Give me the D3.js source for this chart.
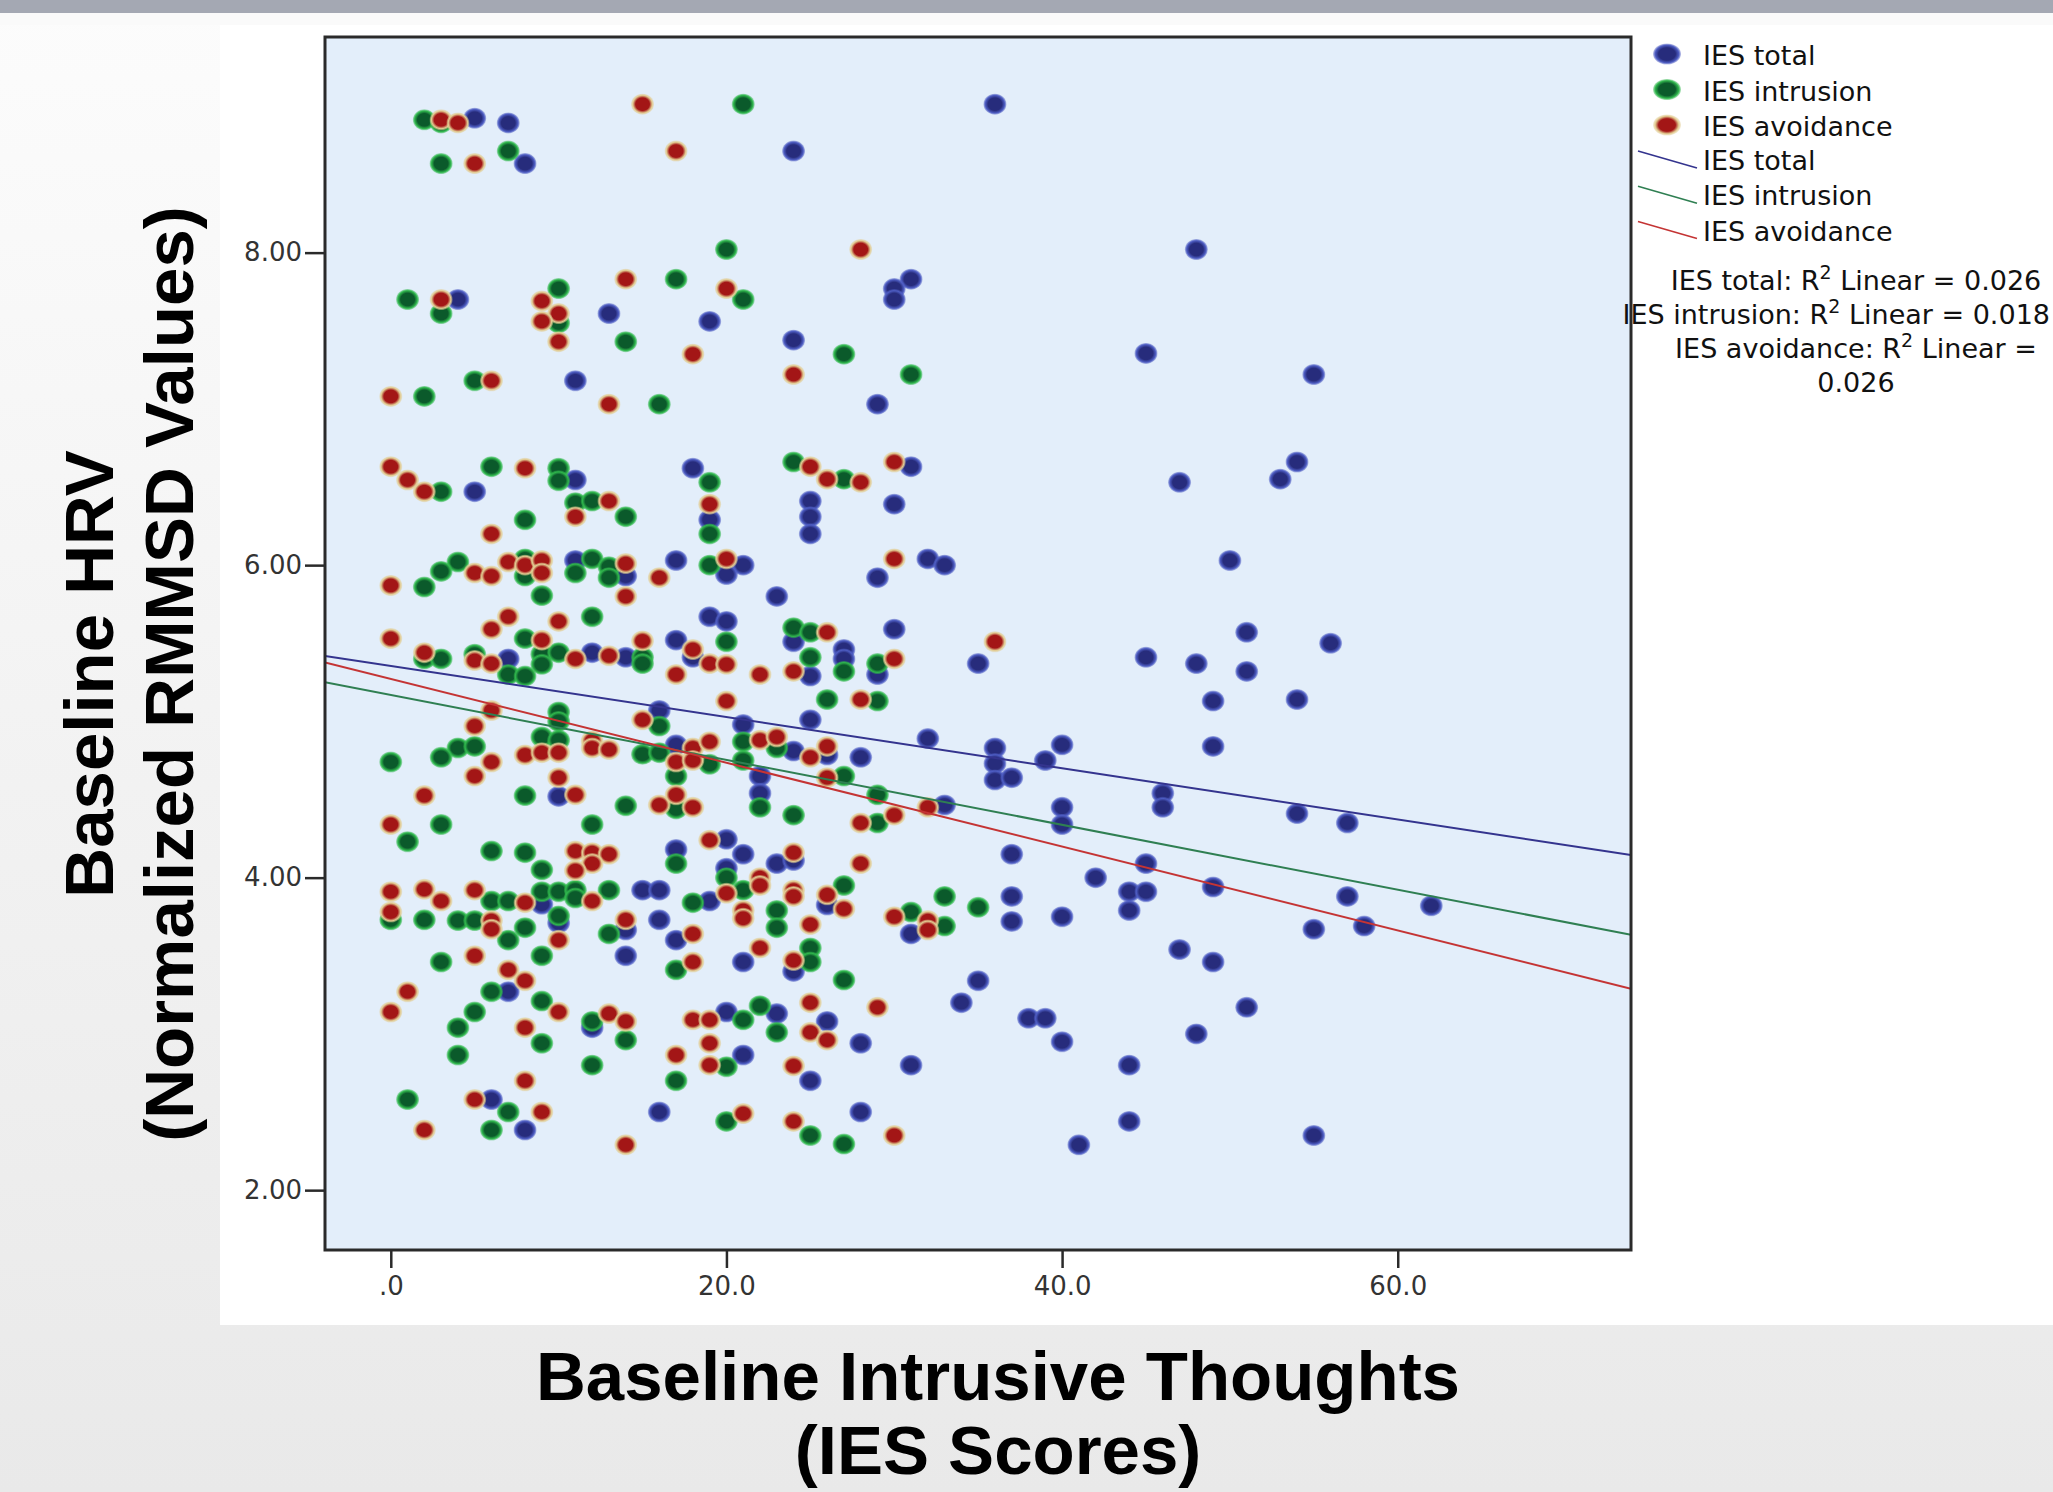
<!DOCTYPE html>
<html>
<head>
<meta charset="utf-8">
<script src="https://cdn.jsdelivr.net/npm/d3@7/dist/d3.min.js"></script>
<style>
html,body{margin:0;padding:0;overflow:hidden;background:#fff;}
svg{display:block;}
</style>
</head>
<body>
<script>
// ---------------- DATA ----------------
const seriesNames = ["IES total", "IES intrusion", "IES avoidance"];
const xTickValues = [0, 20, 40, 60];
const xTickLabels = [".0", "20.0", "40.0", "60.0"];
const yTickValues = [2, 4, 6, 8];
const yTickLabels = ["2.00", "4.00", "6.00", "8.00"];
const xTitle = ["Baseline Intrusive Thoughts", "(IES Scores)"];
const yTitle = ["Baseline HRV", "(Normalized RMMSD Values)"];
const fitIntercepts = [5.355, 5.169, 5.272];
const fitSlopes = [-0.01637, -0.02077, -0.02683];
const r2Values = ["0.026", "0.018", "0.026"];

// [IES score, HRV]
const iesTotal = [
[5,8.86],[7,8.83],[8,8.57],[4,7.70],[13,7.61],[11,7.18],
[36,8.95],[24,8.65],[19,7.56],[24,7.44],[29,7.03],[31,7.83],[30,7.77],[30,7.70],
[5,6.47],[11,6.545],[11,6.03],[14,5.93],[7,5.40],[12,5.44],[14,5.41],[16,5.07],[10,4.52],
[18,6.62],[19,6.29],[25,6.41],[25,6.31],[25,6.20],[30,6.39],[31,6.63],[17,6.03],[21,6.00],[20,5.94],
[32,6.04],[33,6.00],[29,5.92],[23,5.80],[19,5.67],[20,5.64],[17,5.52],[18,5.41],[24,5.51],[27,5.46],
[27,5.40],[25,5.29],[30,5.59],[29,5.30],[35,5.37],[21,4.98],[25,5.01],[32,4.89],[36,4.83],[36,4.73],
[36,4.625],[17,4.85],[24,4.81],[26,4.785],[28,4.77],[22,4.65],[22,4.54],[33,4.465],
[9,3.83],[15,3.92],[16,3.92],[10,3.71],[14,3.665],[16,3.73],[14,3.50],[7,3.27],[12,3.04],[6,2.58],[8,2.385],[16,2.50],
[20,4.245],[17,4.18],[21,4.15],[23,4.09],[24,4.11],[20,4.06],[19,3.85],[26,3.825],[17,3.60],[31,3.64],
[24,3.40],[21,3.46],[35,3.34],[34,3.20],[20,3.14],[23,3.13],[26,3.08],[28,2.94],[21,2.865],[31,2.80],[25,2.70],[28,2.50],
[48,8.02],[45,7.355],[55,7.22],[54,6.66],[53,6.55],[47,6.53],[50,6.03],[45,5.41],[48,5.37],[51,5.57],
[51,5.32],[49,5.13],[54,5.14],[56,5.50],[49,4.84],[37,4.64],[39,4.75],[40,4.85],[46,4.54],[46,4.45],
[40,4.45],[40,4.34],[54,4.41],[57,4.35],[37,4.15],[42,4.00],[45,4.09],[44,3.91],[45,3.91],[44,3.79],
[49,3.94],[57,3.88],[62,3.82],[58,3.69],[55,3.67],[37,3.88],[37,3.72],[40,3.75],[47,3.54],[49,3.46],
[38,3.10],[39,3.10],[40,2.95],[48,3.00],[44,2.80],[44,2.44],[41,2.29],[55,2.35],[51,3.17]
];
const iesIntrusion = [
[2,8.85],[3,8.83],[3,8.57],[7,8.65],[1,7.70],[3,7.61],[10,7.77],[10,7.55],[14,7.43],[5,7.18],[2,7.08],[16,7.03],
[21,8.95],[20,8.02],[17,7.83],[21,7.70],[27,7.35],[31,7.22],
[3,6.47],[6,6.63],[10,6.62],[10,6.54],[11,6.40],[12,6.41],[14,6.31],[8,6.29],[4,6.02],[3,5.96],[2,5.86],
[8,6.04],[8,5.93],[11,5.95],[12,6.04],[13,5.99],[13,5.92],[9,5.805],[12,5.67],[8,5.53],[2,5.40],[3,5.40],
[5,5.43],[9,5.43],[9,5.365],[10,5.44],[15,5.41],[15,5.37],[7,5.30],[8,5.29],[10,5.06],[10,5.00],[16,4.97],
[9,4.90],[10,4.88],[4,4.83],[5,4.84],[3,4.77],[0,4.74],[15,4.79],[16,4.80],[8,4.525],[14,4.46],[3,4.34],[12,4.34],
[19,6.53],[19,6.20],[24,6.66],[27,6.55],[19,6.00],[20,5.51],[24,5.60],[25,5.57],[25,5.41],[27,5.32],[29,5.37],
[26,5.14],[29,5.13],[21,4.87],[23,4.83],[19,4.725],[21,4.75],[17,4.65],[27,4.65],[29,4.53],[22,4.45],[17,4.44],[24,4.40],[29,4.35],
[1,4.23],[6,4.17],[8,4.16],[9,4.05],[6,3.85],[7,3.85],[9,3.91],[10,3.91],[11,3.92],[11,3.87],[13,3.92],
[0,3.73],[2,3.73],[4,3.725],[5,3.725],[8,3.68],[7,3.60],[10,3.755],[13,3.64],[3,3.46],[9,3.50],[6,3.27],
[5,3.14],[9,3.21],[4,3.04],[12,3.08],[9,2.94],[14,2.96],[4,2.865],[12,2.80],[1,2.58],[7,2.50],[6,2.385],
[17,4.09],[20,4.00],[21,3.92],[18,3.84],[27,3.95],[23,3.79],[23,3.68],[33,3.88],[35,3.81],[31,3.78],[33,3.69],
[25,3.55],[25,3.46],[17,3.41],[27,3.345],[22,3.18],[21,3.09],[23,3.01],[20,2.79],[17,2.70],[20,2.44],[25,2.35],[27,2.295]
];
const iesAvoidance = [
[3,8.85],[4,8.83],[15,8.95],[5,8.57],[3,7.70],[9,7.69],[10,7.61],[9,7.56],[10,7.43],[14,7.83],[6,7.18],[0,7.08],[13,7.03],
[17,8.65],[28,8.02],[20,7.77],[18,7.35],[24,7.22],
[0,6.63],[1,6.545],[2,6.47],[8,6.62],[13,6.41],[11,6.31],[6,6.20],[0,5.87],[5,5.95],[6,5.93],[7,6.02],[8,6.00],
[9,6.03],[9,5.95],[14,6.01],[16,5.92],[14,5.80],[7,5.67],[6,5.59],[10,5.64],[0,5.53],[9,5.52],[15,5.515],
[2,5.44],[5,5.39],[6,5.37],[11,5.40],[13,5.42],[6,5.07],[5,4.97],[15,5.01],[12,4.875],[12,4.83],[13,4.82],
[6,4.74],[8,4.785],[9,4.80],[10,4.80],[5,4.65],[10,4.64],[11,4.53],[2,4.525],[16,4.465],[0,4.34],
[19,6.39],[25,6.63],[26,6.55],[28,6.53],[30,6.66],[20,6.04],[30,6.04],[18,5.46],[19,5.37],[20,5.365],[17,5.30],
[22,5.30],[26,5.57],[24,5.32],[30,5.40],[36,5.51],[20,5.13],[28,5.14],[18,4.83],[19,4.87],[22,4.88],[23,4.90],
[25,4.77],[26,4.84],[17,4.74],[18,4.75],[26,4.64],[17,4.53],[32,4.45],[18,4.45],[30,4.40],[28,4.35],
[11,4.17],[12,4.16],[13,4.15],[12,4.09],[11,4.045],[0,3.91],[2,3.925],[3,3.85],[5,3.92],[8,3.84],[12,3.85],
[0,3.78],[6,3.725],[6,3.67],[10,3.60],[14,3.73],[5,3.50],[7,3.41],[8,3.34],[1,3.27],[0,3.14],[10,3.14],
[8,3.04],[13,3.13],[14,3.08],[8,2.70],[5,2.58],[9,2.50],[2,2.385],[14,2.29],
[19,4.24],[24,4.16],[28,4.09],[22,4.00],[22,3.95],[20,3.90],[24,3.92],[24,3.88],[26,3.89],[27,3.80],[21,3.79],
[21,3.74],[25,3.70],[18,3.64],[30,3.75],[32,3.725],[32,3.665],[22,3.55],[24,3.47],[18,3.46],[25,3.20],[29,3.17],
[18,3.09],[19,3.09],[25,3.01],[26,2.96],[19,2.94],[17,2.865],[19,2.80],[24,2.795],[21,2.49],[24,2.44],[30,2.35]
];
const seriesData = [iesTotal, iesIntrusion, iesAvoidance];

// ---------------- STYLE ----------------
const W = 2053, H = 1492;
const plot = {left: 325, right: 1631, top: 37, bottom: 1250};
const dotCore = ["#272c7c", "#0b5a2b", "#a31616"];
const dotRing = ["#4d5cc2", "#2fb64c", "#e2cc92"];
const lineColors = ["#34348e", "#2f7f52", "#c43434"];
const smallFont = "'DejaVu Sans', Verdana, sans-serif";
const titleFont = "'Liberation Sans', Arial, Helvetica, sans-serif";

const svg = d3.select("body").append("svg").attr("width", W).attr("height", H);
const defs = svg.append("defs");

const bg = defs.append("linearGradient").attr("id", "pagebg").attr("x1", 0).attr("y1", 0).attr("x2", 0).attr("y2", 1);
bg.append("stop").attr("offset", "0%").attr("stop-color", "#fcfcfc");
bg.append("stop").attr("offset", "100%").attr("stop-color", "#e9e9e9");

seriesNames.forEach((n, i) => {
  const g = defs.append("radialGradient").attr("id", "dot" + i);
  g.append("stop").attr("offset", "0%").attr("stop-color", dotCore[i]);
  g.append("stop").attr("offset", "60%").attr("stop-color", dotCore[i]);
  g.append("stop").attr("offset", "84%").attr("stop-color", dotRing[i]);
  g.append("stop").attr("offset", "100%").attr("stop-color", dotRing[i]).attr("stop-opacity", 0.35);
});

defs.append("clipPath").attr("id", "plotclip").append("rect")
  .attr("x", plot.left).attr("y", plot.top)
  .attr("width", plot.right - plot.left).attr("height", plot.bottom - plot.top);

// page background
svg.append("rect").attr("width", W).attr("height", H).attr("fill", "url(#pagebg)");
svg.append("rect").attr("width", W).attr("height", 13).attr("fill", "#a4a8b3");
svg.append("rect").attr("x", 0).attr("y", 13).attr("width", W).attr("height", 12).attr("fill", "#fafafa");
svg.append("rect").attr("x", 220).attr("y", 25).attr("width", W - 220).attr("height", 1300).attr("fill", "#ffffff");

// scales
const x = d3.scaleLinear().domain([-3.92, 73.9]).range([plot.left, plot.right]);
const y = d3.scaleLinear().domain([1.617, 9.38]).range([plot.bottom, plot.top]);

// plot background
svg.append("rect").attr("x", plot.left).attr("y", plot.top)
  .attr("width", plot.right - plot.left).attr("height", plot.bottom - plot.top)
  .attr("fill", "#e3eefa");

// dots
const dotsG = svg.append("g").attr("clip-path", "url(#plotclip)");
seriesData.forEach((data, i) => {
  dotsG.append("g").selectAll("ellipse").data(data).join("ellipse")
    .attr("cx", d => x(d[0])).attr("cy", d => y(d[1]))
    .attr("rx", 11.5).attr("ry", 10.5)
    .attr("fill", "url(#dot" + i + ")");
});

// fit lines
const linesG = svg.append("g").attr("clip-path", "url(#plotclip)");
const xd = x.domain();
seriesNames.forEach((n, i) => {
  const pts = xd.map(v => [v, fitIntercepts[i] + fitSlopes[i] * v]);
  linesG.append("path")
    .attr("d", d3.line().x(d => x(d[0])).y(d => y(d[1]))(pts))
    .attr("fill", "none").attr("stroke", lineColors[i]).attr("stroke-width", 2);
});

// frame
svg.append("rect").attr("x", plot.left).attr("y", plot.top)
  .attr("width", plot.right - plot.left).attr("height", plot.bottom - plot.top)
  .attr("fill", "none").attr("stroke", "#2a2a2a").attr("stroke-width", 3);

// axes
const xAxis = d3.axisBottom(x).tickValues(xTickValues)
  .tickFormat((d, i) => xTickLabels[i]).tickSize(18).tickPadding(9);
const gx = svg.append("g").attr("transform", `translate(0,${plot.bottom})`).call(xAxis);
gx.select(".domain").remove();
gx.selectAll("line").attr("stroke", "#2a2a2a").attr("stroke-width", 2.5);
gx.selectAll("text").attr("font-family", smallFont).attr("font-size", 26).attr("fill", "#333");

const yAxis = d3.axisLeft(y).tickValues(yTickValues)
  .tickFormat((d, i) => yTickLabels[i]).tickSize(20).tickPadding(3);
const gy = svg.append("g").attr("transform", `translate(${plot.left},0)`).call(yAxis);
gy.select(".domain").remove();
gy.selectAll("line").attr("stroke", "#2a2a2a").attr("stroke-width", 2.5);
gy.selectAll("text").attr("font-family", smallFont).attr("font-size", 26).attr("fill", "#333");

// axis titles
const xt = svg.append("text").attr("text-anchor", "middle")
  .attr("font-family", titleFont).attr("font-weight", "bold").attr("font-size", 69).attr("fill", "#000");
xt.append("tspan").attr("x", 998).attr("y", 1400).text(xTitle[0]);
xt.append("tspan").attr("x", 998).attr("y", 1474).text(xTitle[1]);

const yt = svg.append("text").attr("text-anchor", "middle")
  .attr("transform", "translate(0,674) rotate(-90)")
  .attr("font-family", titleFont).attr("font-weight", "bold").attr("font-size", 69).attr("fill", "#000");
yt.append("tspan").attr("x", 0).attr("y", 113).text(yTitle[0]);
yt.append("tspan").attr("x", 0).attr("y", 193).text(yTitle[1]);

// legend
const lg = svg.append("g").attr("font-family", smallFont).attr("font-size", 27).attr("fill", "#111");
const legTextX = 1703;
seriesNames.forEach((n, i) => {
  const cy = 54 + i * 35.5;
  lg.append("ellipse").attr("cx", 1667).attr("cy", cy).attr("rx", 14).attr("ry", 10.5)
    .attr("fill", "url(#dot" + i + ")");
  lg.append("text").attr("x", legTextX).attr("y", cy + 11).text(n);
});
seriesNames.forEach((n, i) => {
  const base = 170 + i * 35.3;
  lg.append("line").attr("x1", 1638).attr("y1", base - 19).attr("x2", 1697).attr("y2", base - 2)
    .attr("stroke", lineColors[i]).attr("stroke-width", 1.6);
  lg.append("text").attr("x", legTextX).attr("y", base).text(n);
});

// R² annotations
const r2g = svg.append("g").attr("font-family", smallFont).attr("font-size", 27).attr("fill", "#111");
function r2Line(xPos, yPos, anchor, label, value) {
  const t = r2g.append("text").attr("x", xPos).attr("y", yPos).attr("text-anchor", anchor);
  t.append("tspan").text(label + ": R");
  t.append("tspan").attr("dy", -11).attr("font-size", 19).text("2");
  t.append("tspan").attr("dy", 11).text(" Linear =" + (value ? " " + value : ""));
  return t;
}
r2Line(1856, 290, "middle", seriesNames[0], r2Values[0]);
r2Line(2050, 324, "end", seriesNames[1], r2Values[1]);
r2Line(1856, 358, "middle", seriesNames[2], "");
r2g.append("text").attr("x", 1856).attr("y", 392).attr("text-anchor", "middle").text(r2Values[2]);
</script>
</body>
</html>
